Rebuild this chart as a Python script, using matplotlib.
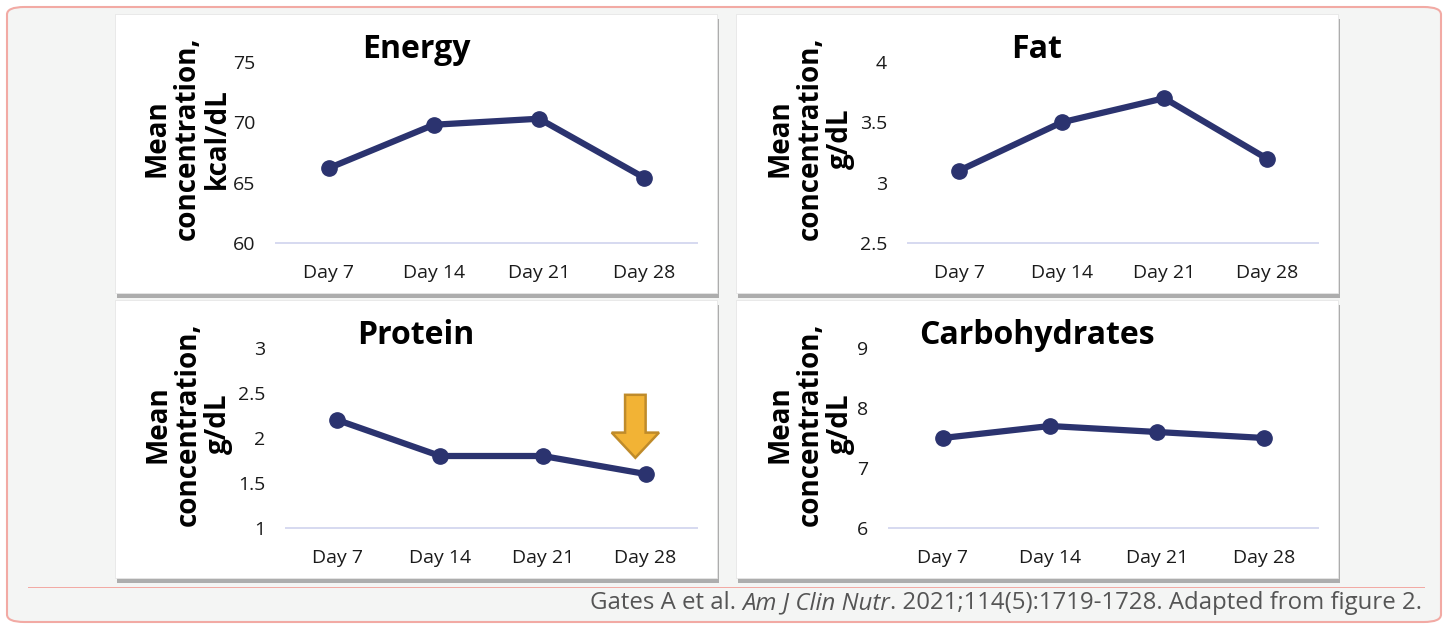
import matplotlib as mpl

mpl.use("Agg")

import matplotlib.pyplot as plt
from matplotlib.patches import FancyArrow, FancyBboxPatch, Rectangle

W, H = 1448, 625

days = ["Day 7", "Day 14", "Day 21", "Day 28"]

energy = [66.2, 69.8, 70.3, 65.4]
fat = [3.1, 3.5, 3.7, 3.2]
protein = [2.2, 1.8, 1.8, 1.6]
carbs = [7.5, 7.7, 7.6, 7.5]

energy_ticks = [60, 65, 70, 75]
fat_ticks = [2.5, 3, 3.5, 4]
protein_ticks = [1, 1.5, 2, 2.5, 3]
carbs_ticks = [6, 7, 8, 9]

NAVY = "#2b336f"
GRID = "#d6d9f0"
FONT = "Open Sans"

plt.rcParams["font.family"] = [FONT, "DejaVu Sans"]


def fx(px):
    return px / W


def fy(py):
    return 1 - py / H


def panel(fig, x0, y0, x1, y1):
    # drop shadow then white card
    fig.patches.append(Rectangle((fx(x0 + 2), fy(y1 + 5)), fx(x1 - x0), (y1 - y0) / H,
                                 transform=fig.transFigure, facecolor="#8f8f8f",
                                 edgecolor="none", alpha=0.7, zorder=1))
    fig.patches.append(Rectangle((fx(x0), fy(y1)), fx(x1 - x0), (y1 - y0) / H,
                                 transform=fig.transFigure, facecolor="white",
                                 edgecolor="#e6e6e6", lw=0.6, zorder=2))


def make_axes(fig, x0, x1, ytop, ybot, values, ticks, title, unit, title_x, title_y,
              label_x):
    ax = fig.add_axes([fx(x0), fy(ybot), fx(x1 - x0), (ybot - ytop) / H], zorder=5)
    ax.patch.set_visible(False)
    ax.plot(range(len(days)), values, color=NAVY, lw=4.5, marker="o", ms=11,
            solid_capstyle="round", zorder=3)
    ax.set_xlim(-0.5, len(days) - 0.5)
    ax.set_ylim(ticks[0], ticks[-1])
    ax.set_xticks(range(len(days)))
    ax.set_xticklabels(days)
    ax.set_yticks(ticks)
    ax.set_yticklabels([f"{t:g}" for t in ticks])
    ax.tick_params(length=0, labelsize=14, colors="#1a1a1a")
    ax.tick_params(axis="y", pad=15)
    ax.tick_params(axis="x", pad=15)
    for s in ["top", "right", "left"]:
        ax.spines[s].set_visible(False)
    ax.spines["bottom"].set_color(GRID)
    ax.spines["bottom"].set_linewidth(1.4)
    ax.spines["bottom"].set_zorder(1)

    fig.text(fx(title_x), fy(title_y), title, ha="center", va="center",
             fontsize=23, fontweight="bold", color="black", zorder=6)
    fig.text(fx(label_x), fy((ytop + ybot) / 2 - 14), "Mean\nconcentration,\n" + unit,
             rotation=90, ha="center", va="center", multialignment="center",
             fontsize=20, fontweight="bold", linespacing=1.05, color="black", zorder=6)
    return ax


fig = plt.figure(figsize=(W / 100, H / 100), dpi=100)
fig.patch.set_facecolor("white")

# outer card with pink border
fig.patches.append(FancyBboxPatch((fx(7), fy(622)), fx(1434), 615 / H,
                                  boxstyle="round,pad=0,rounding_size=0.012",
                                  transform=fig.transFigure, facecolor="#f4f5f4",
                                  edgecolor="#f2aaa4", lw=1.5, zorder=0))
fig.patches.append(Rectangle((fx(28), fy(588)), fx(1397), 0.0015,
                             transform=fig.transFigure, facecolor="#f2aaa4",
                             edgecolor="none", zorder=1))

panel(fig, 115, 14, 717, 293)
panel(fig, 736, 14, 1338, 293)
panel(fig, 115, 300, 717, 578)
panel(fig, 736, 300, 1338, 578)

make_axes(fig, 276, 697, 62, 243, energy, energy_ticks, "Energy", "kcal/dL", 416, 50, 187)
make_axes(fig, 908, 1318, 62, 243, fat, fat_ticks, "Fat", "g/dL", 1037, 50, 810)
ax_p = make_axes(fig, 286, 697, 348, 528, protein, protein_ticks, "Protein", "g/dL",
                 416, 335, 188)
make_axes(fig, 889, 1318, 348, 528, carbs, carbs_ticks, "Carbohydrates", "g/dL",
          1037, 335, 810)

# orange arrow pointing at the day 28 protein value
tip_x = len(days) - 1 - 0.1
tip_y = protein[-1] + 0.18
ax_p.add_patch(FancyArrow(tip_x, tip_y + 0.7, 0, -0.7, width=0.2, head_width=0.46,
                          head_length=0.28, length_includes_head=True,
                          facecolor="#f2b335", edgecolor="#bf8b2a", lw=1.8,
                          zorder=4, clip_on=False))

# citation, built right to left so the italic journal name sits inline
renderer = fig.canvas.get_renderer()
pieces = [
    ("Gates A et al. ", "normal"),
    ("Am J Clin Nutr", "italic"),
    (". 2021;114(5):1719-1728. Adapted from figure 2.", "normal"),
]
x_right = fx(1422)
for text, style in reversed(pieces):
    t = fig.text(x_right, fy(603), text, ha="right", va="center", fontsize=17.3,
                 style=style, color="#555555", zorder=6)
    bb = t.get_window_extent(renderer)
    x_right = bb.x0 / W

fig.savefig("out.png", dpi=100)
